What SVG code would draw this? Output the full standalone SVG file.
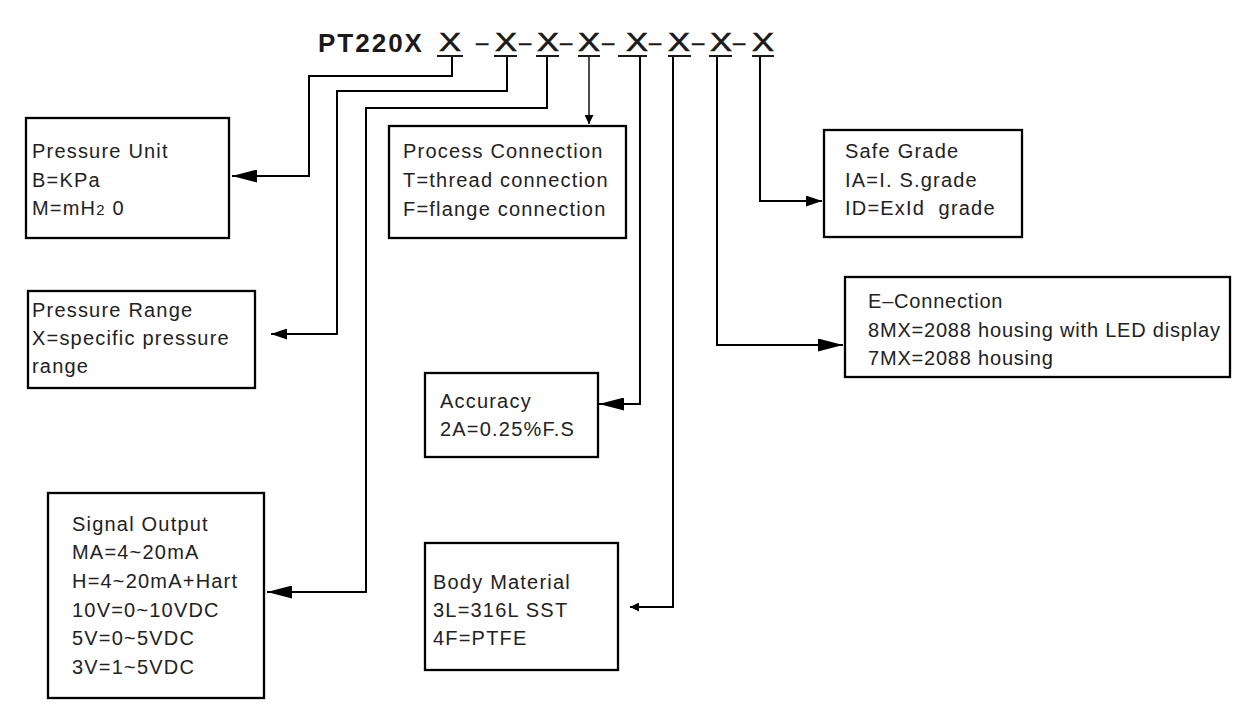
<svg xmlns="http://www.w3.org/2000/svg" width="1240" height="726" viewBox="0 0 1240 726">
<defs>
<style>
.bg{fill:#ffffff}
.box{fill:#ffffff;stroke:#000;stroke-width:2.3}
.t{font-family:"Liberation Sans",Arial,sans-serif;font-size:20px;letter-spacing:1.2px;fill:#222}
.title{font-family:"Liberation Sans",Arial,sans-serif;font-size:26px;font-weight:bold;letter-spacing:2px;fill:#1a1a1a}
.x{font-family:"Liberation Sans",Arial,sans-serif;font-size:26px;fill:#1a1a1a;stroke:#1a1a1a;stroke-width:0.6;text-anchor:middle}
.d{font-family:"Liberation Sans",Arial,sans-serif;font-size:22px;fill:#1a1a1a;stroke:#1a1a1a;stroke-width:0.5;text-anchor:middle}
.ul{stroke:#1a1a1a;stroke-width:2}
.c{fill:none;stroke:#000;stroke-width:2}
.cthin{fill:none;stroke:#000;stroke-width:1.4}
</style>
<marker id="aBig" markerUnits="userSpaceOnUse" markerWidth="25" markerHeight="13" refX="25" refY="6.5" orient="auto"><path d="M0,0 L25,6.5 L0,13 Z" fill="#000"/></marker>
<marker id="aMid" markerUnits="userSpaceOnUse" markerWidth="16" markerHeight="11" refX="16" refY="5.5" orient="auto"><path d="M0,0 L16,5.5 L0,11 Z" fill="#000"/></marker>
<marker id="aSmall" markerUnits="userSpaceOnUse" markerWidth="9" markerHeight="9" refX="9" refY="4.5" orient="auto"><path d="M0,0 L9,4.5 L0,9 Z" fill="#000"/></marker>
</defs>
<rect class="bg" x="0" y="0" width="1240" height="726"/>

<g id="title">
<text class="title" x="318" y="52">PT220X</text>
<text class="x" x="450" y="51" textLength="22" lengthAdjust="spacingAndGlyphs">X</text>
<text class="x" x="506" y="51" textLength="22" lengthAdjust="spacingAndGlyphs">X</text>
<text class="x" x="548" y="51" textLength="22" lengthAdjust="spacingAndGlyphs">X</text>
<text class="x" x="589" y="51" textLength="22" lengthAdjust="spacingAndGlyphs">X</text>
<text class="x" x="637" y="51" textLength="22" lengthAdjust="spacingAndGlyphs">X</text>
<text class="x" x="679" y="51" textLength="22" lengthAdjust="spacingAndGlyphs">X</text>
<text class="x" x="721" y="51" textLength="22" lengthAdjust="spacingAndGlyphs">X</text>
<text class="x" x="763" y="51" textLength="22" lengthAdjust="spacingAndGlyphs">X</text>
<text class="d" x="482" y="50">–</text>
<text class="d" x="525" y="50">–</text>
<text class="d" x="566" y="50">–</text>
<text class="d" x="608" y="50">–</text>
<text class="d" x="655" y="50">–</text>
<text class="d" x="698" y="50">–</text>
<text class="d" x="739" y="50">–</text>
<line class="ul" x1="437" y1="56" x2="463" y2="56"/>
<line class="ul" x1="494" y1="56" x2="517" y2="56"/>
<line class="ul" x1="536" y1="56" x2="559" y2="56"/>
<line class="ul" x1="578" y1="56" x2="600" y2="56"/>
<line class="ul" x1="618" y1="56" x2="647" y2="56"/>
<line class="ul" x1="668" y1="56" x2="691" y2="56"/>
<line class="ul" x1="709" y1="56" x2="732" y2="56"/>
<line class="ul" x1="752" y1="56" x2="774" y2="56"/>
</g>

<g id="connectors">
<path class="c" d="M452,57 V76 H309 V176 H232" marker-end="url(#aBig)"/>
<path class="c" d="M507,57 V91 H337 V334 H271" marker-end="url(#aMid)"/>
<path class="c" d="M547,57 V108 H366 V592 H267" marker-end="url(#aBig)"/>
<path class="cthin" d="M589,57 V124" marker-end="url(#aSmall)"/>
<path class="c" d="M640,57 V404 H599" marker-end="url(#aBig)"/>
<path class="c" d="M673,57 V607 H630" marker-end="url(#aSmall)"/>
<path class="c" d="M717,57 V345 H843" marker-end="url(#aBig)"/>
<path class="c" d="M760,57 V201 H822" marker-end="url(#aMid)"/>
</g>

<g id="pressure-unit">
<rect class="box" x="26" y="118" width="203" height="120"/>
<text class="t" x="32" y="158">Pressure Unit</text>
<text class="t" x="32" y="187">B=KPa</text>
<text class="t" x="32" y="215">M=mH<tspan font-size="15">2</tspan> 0</text>
</g>

<g id="process-connection">
<rect class="box" x="389" y="126" width="237" height="112"/>
<text class="t" x="403" y="158">Process Connection</text>
<text class="t" x="403" y="187">T=thread connection</text>
<text class="t" x="403" y="216">F=flange connection</text>
</g>

<g id="safe-grade">
<rect class="box" x="824" y="130" width="198" height="107"/>
<text class="t" x="845" y="158">Safe Grade</text>
<text class="t" x="845" y="187">IA=I. S.grade</text>
<text class="t" x="845" y="215" xml:space="preserve">ID=ExId  grade</text>
</g>

<g id="e-connection">
<rect class="box" x="845" y="277" width="385" height="100"/>
<text class="t" x="868" y="308" style="letter-spacing:0.8px">E–Connection</text>
<text class="t" x="868" y="337" style="letter-spacing:0.8px">8MX=2088 housing with LED display</text>
<text class="t" x="868" y="365" style="letter-spacing:0.8px">7MX=2088 housing</text>
</g>

<g id="pressure-range">
<rect class="box" x="28" y="291" width="227" height="97"/>
<text class="t" x="32" y="317">Pressure Range</text>
<text class="t" x="32" y="345">X=specific pressure</text>
<text class="t" x="32" y="373">range</text>
</g>

<g id="accuracy">
<rect class="box" x="425" y="373" width="173" height="84"/>
<text class="t" x="440" y="408">Accuracy</text>
<text class="t" x="440" y="436">2A=0.25%F.S</text>
</g>

<g id="signal-output">
<rect class="box" x="48" y="493" width="216" height="205"/>
<text class="t" x="72" y="531">Signal Output</text>
<text class="t" x="72" y="559">MA=4~20mA</text>
<text class="t" x="72" y="588">H=4~20mA+Hart</text>
<text class="t" x="72" y="617">10V=0~10VDC</text>
<text class="t" x="72" y="645">5V=0~5VDC</text>
<text class="t" x="72" y="674">3V=1~5VDC</text>
</g>

<g id="body-material">
<rect class="box" x="425" y="543" width="193" height="127"/>
<text class="t" x="433" y="589">Body Material</text>
<text class="t" x="433" y="617">3L=316L SST</text>
<text class="t" x="433" y="645">4F=PTFE</text>
</g>
</svg>
